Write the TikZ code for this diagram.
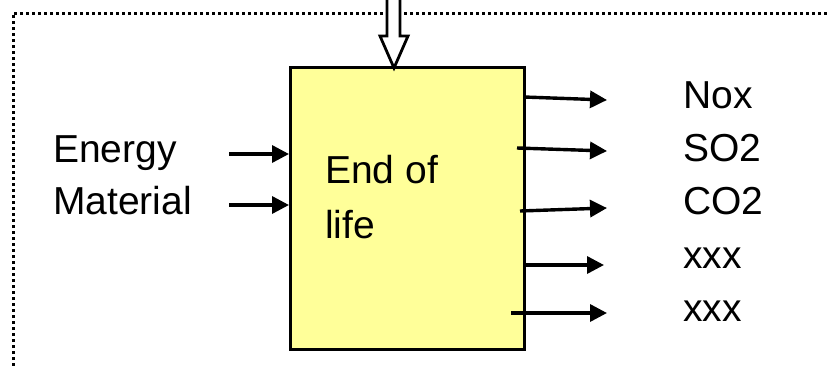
\documentclass[tikz,border=0pt]{standalone}
\usepackage{fontspec}
\setmainfont{Liberation Sans}
\usetikzlibrary{arrows.meta}
\begin{document}
\begin{tikzpicture}[x=1pt,y=-1pt,
  lbl/.style={anchor=base west,inner sep=0pt,font=\fontsize{39}{45}\selectfont},
  flow/.style={line width=3.4pt,-{Triangle[length=17pt,width=17pt]}},
  frame/.style={line width=3pt,dash pattern=on 3pt off 3pt},
  procbox/.style={draw,line width=3.2pt,fill={rgb,255:red,255;green,255;blue,153}}]
\useasboundingbox (0,0) rectangle (830,365);
% system boundary (dotted, continues beyond the page)
\draw[frame] (13,372) -- (13,13) -- (840,13);
% process box
\node[procbox,minimum width=234pt,minimum height=282pt,anchor=north west,inner sep=0pt] (box) at (289,66) {};
\node[lbl] (t1) at (325,183) {End of};
\node[lbl] (t2) at (325,238) {life};
% hollow input arrow from above
\coordinate (tip) at (394,68);
\draw[line width=2.8pt,fill=white,line join=miter]
  (387,-5) -- (387,36) -- (380,36) -- (tip) -- (408,36) -- (400,36) -- (400,-5);
% inputs
\node[lbl] (energy) at (53,162) {Energy};
\node[lbl] (material) at (53,214) {Material};
\coordinate (e0) at (229,154);
\coordinate (m0) at (229,205);
\draw[flow] (e0) -- (box.west |- e0);
\draw[flow] (m0) -- (box.west |- m0);
% outputs
\node[lbl] (o1) at (683,108) {Nox};
\node[lbl] (o2) at (683,161) {SO2};
\node[lbl] (o3) at (683,214) {CO2};
\node[lbl] (o4) at (683,268) {xxx};
\node[lbl] (o5) at (683,321) {xxx};
\coordinate (a1) at (524,97);  \coordinate (b1) at (607,100);
\coordinate (a2) at (517,148); \coordinate (b2) at (607,151);
\coordinate (a3) at (520,211); \coordinate (b3) at (607,208);
\coordinate (a4) at (523,265); \coordinate (b4) at (604,265);
\coordinate (a5) at (511,313); \coordinate (b5) at (607,313);
\foreach \i in {1,...,5} \draw[flow] (a\i) -- (b\i);
\end{tikzpicture}
\end{document}
